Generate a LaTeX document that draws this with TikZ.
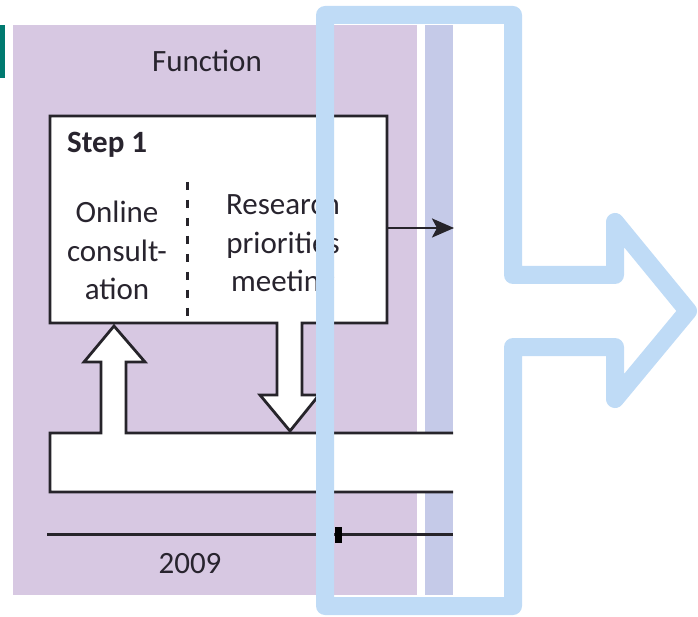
\documentclass[tikz,border=0pt]{standalone}
\usepackage{fontspec}
\setmainfont{Carlito}
\usetikzlibrary{arrows.meta}
\definecolor{panelpurple}{RGB}{215,200,226}
\definecolor{panelblue}{RGB}{197,202,232}
\definecolor{overlayblue}{RGB}{191,219,246}
\definecolor{tealbar}{RGB}{0,122,112}
\definecolor{ink}{RGB}{40,36,46}
\definecolor{linecol}{RGB}{38,36,42}
\tikzset{
  txt/.style={inner sep=0pt, text=ink, font=\fontsize{31}{38.5}\selectfont},
  boxline/.style={draw=linecol, line width=2.8pt, fill=white, line join=miter},
  overlay/.style={draw=overlayblue, line width=18pt, line join=round, line cap=round}
}
\begin{document}
\begin{tikzpicture}[x=1pt,y=-1pt]
\useasboundingbox (0,0) rectangle (698,617);
% backgrounds
\fill[tealbar] (0,25) rectangle (5,78);
\fill[panelpurple] (13,25) rectangle (417,595);
\fill[panelblue] (425,25) rectangle (453,595);
% header
\node[txt, anchor=base] (func) at (207,72) {Function};
% bar with up arrow
\path[boxline] (453,433) -- (126,433) -- (126,362) -- (145,362) -- (114,326)
  -- (84,362) -- (101,362) -- (101,433) -- (50,433) -- (50,492) -- (453,492);
% step box with down arrow
\path[boxline] (302,323) -- (387,323) -- (387,116) -- (50,116) -- (50,323)
  -- (277,323) -- (277,395) -- (260,395) -- (290,431) -- (319,395) -- (302,395) -- cycle;
\coordinate (boxE) at (387,228);
\coordinate (arrEnd) at (454,228);
\draw[draw=linecol, line width=2.8pt, -{Stealth[length=22pt,width=19pt,inset=5pt]}] (boxE) -- (arrEnd);
% dashed divider
\coordinate (dTop) at (187,182);
\coordinate (dBot) at (187,323);
\draw[linecol, line width=3pt, dash pattern=on 8pt off 10pt] (dTop) -- (dBot);
% texts
\node[txt, anchor=base west, font=\fontsize{31}{38.5}\selectfont\bfseries] (step) at (67,153) {Step 1};
\node[txt, anchor=base, align=center] (online) at (117,300) {Online\\consult-\\ation};
\node[txt, anchor=base, align=center] (research) at (283,292) {Research\\priorities\\meeting};
% timeline
\coordinate (tlL) at (47,534);
\coordinate (tlR) at (453,534);
\draw[linecol, line width=3pt] (tlL) -- (tlR);
\fill[black] (335,527) rectangle (342,543);
\node[txt, anchor=base] (year) at (190,573) {2009};
% overlay arrow outline
\draw[overlay] (325,15) -- (513,15) -- (513,275) -- (615,275) -- (615,222)
  -- (688,311) -- (615,399) -- (615,347) -- (513,347) -- (513,606) -- (325,606) -- cycle;
\end{tikzpicture}
\end{document}
